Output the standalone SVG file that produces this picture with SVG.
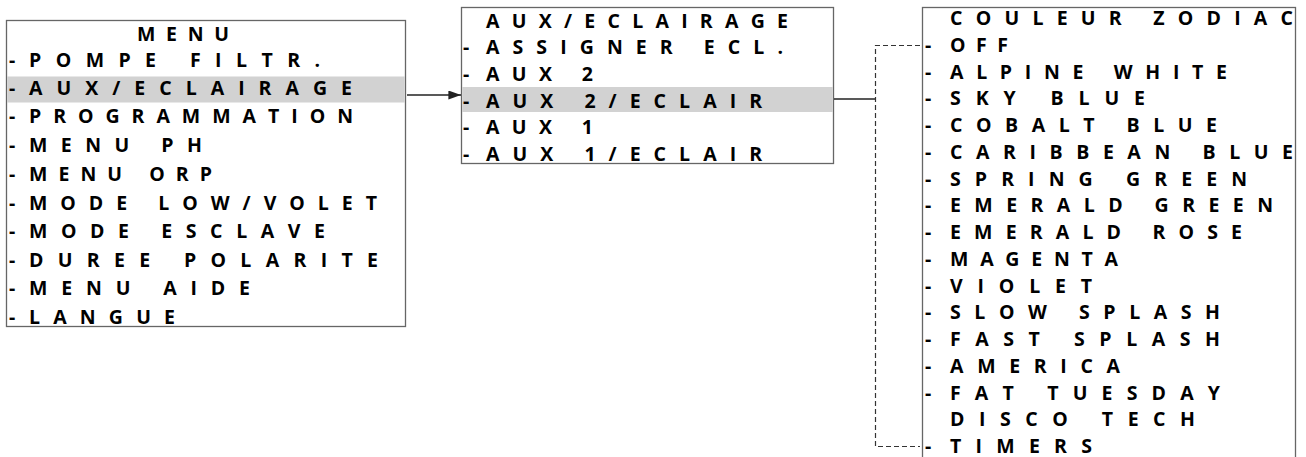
<svg xmlns="http://www.w3.org/2000/svg" width="1306" height="457" viewBox="0 0 1306 457">
<style>
.box{fill:#fff;stroke:#666;stroke-width:1.3}
.band{fill:#d2d2d2}
text{font-family:"Open Sans","Liberation Sans",sans-serif;font-weight:700;font-size:19.5px;fill:#000}
.con{stroke:#222;stroke-width:1.3;fill:none}
.dash{stroke:#333;stroke-width:1.2;fill:none;stroke-dasharray:5 3}
</style>
<defs>
<marker id="ah" viewBox="0 0 14 10" refX="14" refY="5" markerWidth="14" markerHeight="9" markerUnits="userSpaceOnUse" orient="auto">
<path d="M0,0 L14,5 L0,10 Z" fill="#222"/>
</marker>
</defs>
<rect width="1306" height="457" fill="#fff"/>

<g id="node-menu" xml:space="preserve">
<rect class="box" x="6.5" y="20.5" width="399" height="306"/>
<rect class="band" x="7.2" y="76.5" width="397.6" height="26"/>
<text x="137" y="41" textLength="92" lengthAdjust="spacing">MENU</text>
<text x="9" y="67">-</text><text x="29" y="67" textLength="291" lengthAdjust="spacing">POMPE  FILTR.</text>
<text x="9" y="95">-</text><text x="29" y="95" textLength="323" lengthAdjust="spacing">AUX/ECLAIRAGE</text>
<text x="9" y="123">-</text><text x="29" y="123" textLength="324" lengthAdjust="spacing">PROGRAMMATION</text>
<text x="9" y="152">-</text><text x="29" y="152" textLength="173" lengthAdjust="spacing">MENU  PH</text>
<text x="9" y="181">-</text><text x="29" y="181" textLength="183" lengthAdjust="spacing">MENU  ORP</text>
<text x="9" y="209.5">-</text><text x="29" y="209.5" textLength="348" lengthAdjust="spacing">MODE  LOW/VOLET</text>
<text x="9" y="238">-</text><text x="29" y="238" textLength="296" lengthAdjust="spacing">MODE  ESCLAVE</text>
<text x="9" y="266.8">-</text><text x="29" y="266.8" textLength="349" lengthAdjust="spacing">DUREE  POLARITE</text>
<text x="9" y="295.2">-</text><text x="29" y="295.2" textLength="221" lengthAdjust="spacing">MENU  AIDE</text>
<text x="9" y="323.6">-</text><text x="29" y="323.6" textLength="146" lengthAdjust="spacing">LANGUE</text>
</g>

<g id="node-aux" xml:space="preserve">
<rect class="box" x="461.5" y="7.5" width="372" height="156"/>
<rect class="band" x="462.2" y="87" width="370.6" height="25"/>
<text x="486" y="27.5" textLength="302" lengthAdjust="spacing">AUX/ECLAIRAGE</text>
<text x="463" y="54.3">-</text><text x="486" y="54.3" textLength="297" lengthAdjust="spacing">ASSIGNER  ECL.</text>
<text x="463" y="81">-</text><text x="486" y="81" textLength="107" lengthAdjust="spacing">AUX  2</text>
<text x="463" y="107.5">-</text><text x="486" y="107.5" textLength="276" lengthAdjust="spacing">AUX  2/ECLAIR</text>
<text x="463" y="134.3">-</text><text x="486" y="134.3" textLength="107" lengthAdjust="spacing">AUX  1</text>
<text x="463" y="161">-</text><text x="486" y="161" textLength="276" lengthAdjust="spacing">AUX  1/ECLAIR</text>
</g>

<g id="node-couleur" xml:space="preserve">
<rect class="box" x="922.5" y="7.5" width="373" height="460"/>
<text x="950" y="25" textLength="343" lengthAdjust="spacing">COULEUR  ZODIAC</text>
<text x="925" y="51.75">-</text><text x="950" y="51.75" textLength="58" lengthAdjust="spacing">OFF</text>
<text x="925" y="78.5">-</text><text x="950" y="78.5" textLength="277" lengthAdjust="spacing">ALPINE  WHITE</text>
<text x="925" y="105.25">-</text><text x="950" y="105.25" textLength="195" lengthAdjust="spacing">SKY  BLUE</text>
<text x="925" y="132">-</text><text x="950" y="132" textLength="267" lengthAdjust="spacing">COBALT  BLUE</text>
<text x="925" y="158.75">-</text><text x="950" y="158.75" textLength="343" lengthAdjust="spacing">CARIBBEAN  BLUE</text>
<text x="925" y="185.5">-</text><text x="950" y="185.5" textLength="297" lengthAdjust="spacing">SPRING  GREEN</text>
<text x="925" y="212.25">-</text><text x="950" y="212.25" textLength="323" lengthAdjust="spacing">EMERALD  GREEN</text>
<text x="925" y="239">-</text><text x="950" y="239" textLength="292" lengthAdjust="spacing">EMERALD  ROSE</text>
<text x="925" y="265.75">-</text><text x="950" y="265.75" textLength="168" lengthAdjust="spacing">MAGENTA</text>
<text x="925" y="292.5">-</text><text x="950" y="292.5" textLength="142" lengthAdjust="spacing">VIOLET</text>
<text x="925" y="319.25">-</text><text x="950" y="319.25" textLength="270" lengthAdjust="spacing">SLOW  SPLASH</text>
<text x="925" y="346">-</text><text x="950" y="346" textLength="270" lengthAdjust="spacing">FAST  SPLASH</text>
<text x="925" y="372.75">-</text><text x="950" y="372.75" textLength="170" lengthAdjust="spacing">AMERICA</text>
<text x="925" y="399.5">-</text><text x="950" y="399.5" textLength="270" lengthAdjust="spacing">FAT  TUESDAY</text>
<text x="950" y="426.25" textLength="245" lengthAdjust="spacing">DISCO  TECH</text>
<text x="925" y="453">-</text><text x="950" y="453" textLength="142" lengthAdjust="spacing">TIMERS</text>
</g>

<g id="connectors">
<line class="con" x1="407" y1="95" x2="461" y2="95" marker-end="url(#ah)"/>
<line class="con" x1="834" y1="99" x2="875" y2="99"/>
<path class="dash" d="M920,45.5 H875.5 V446.5 H920"/>
</g>
</svg>
